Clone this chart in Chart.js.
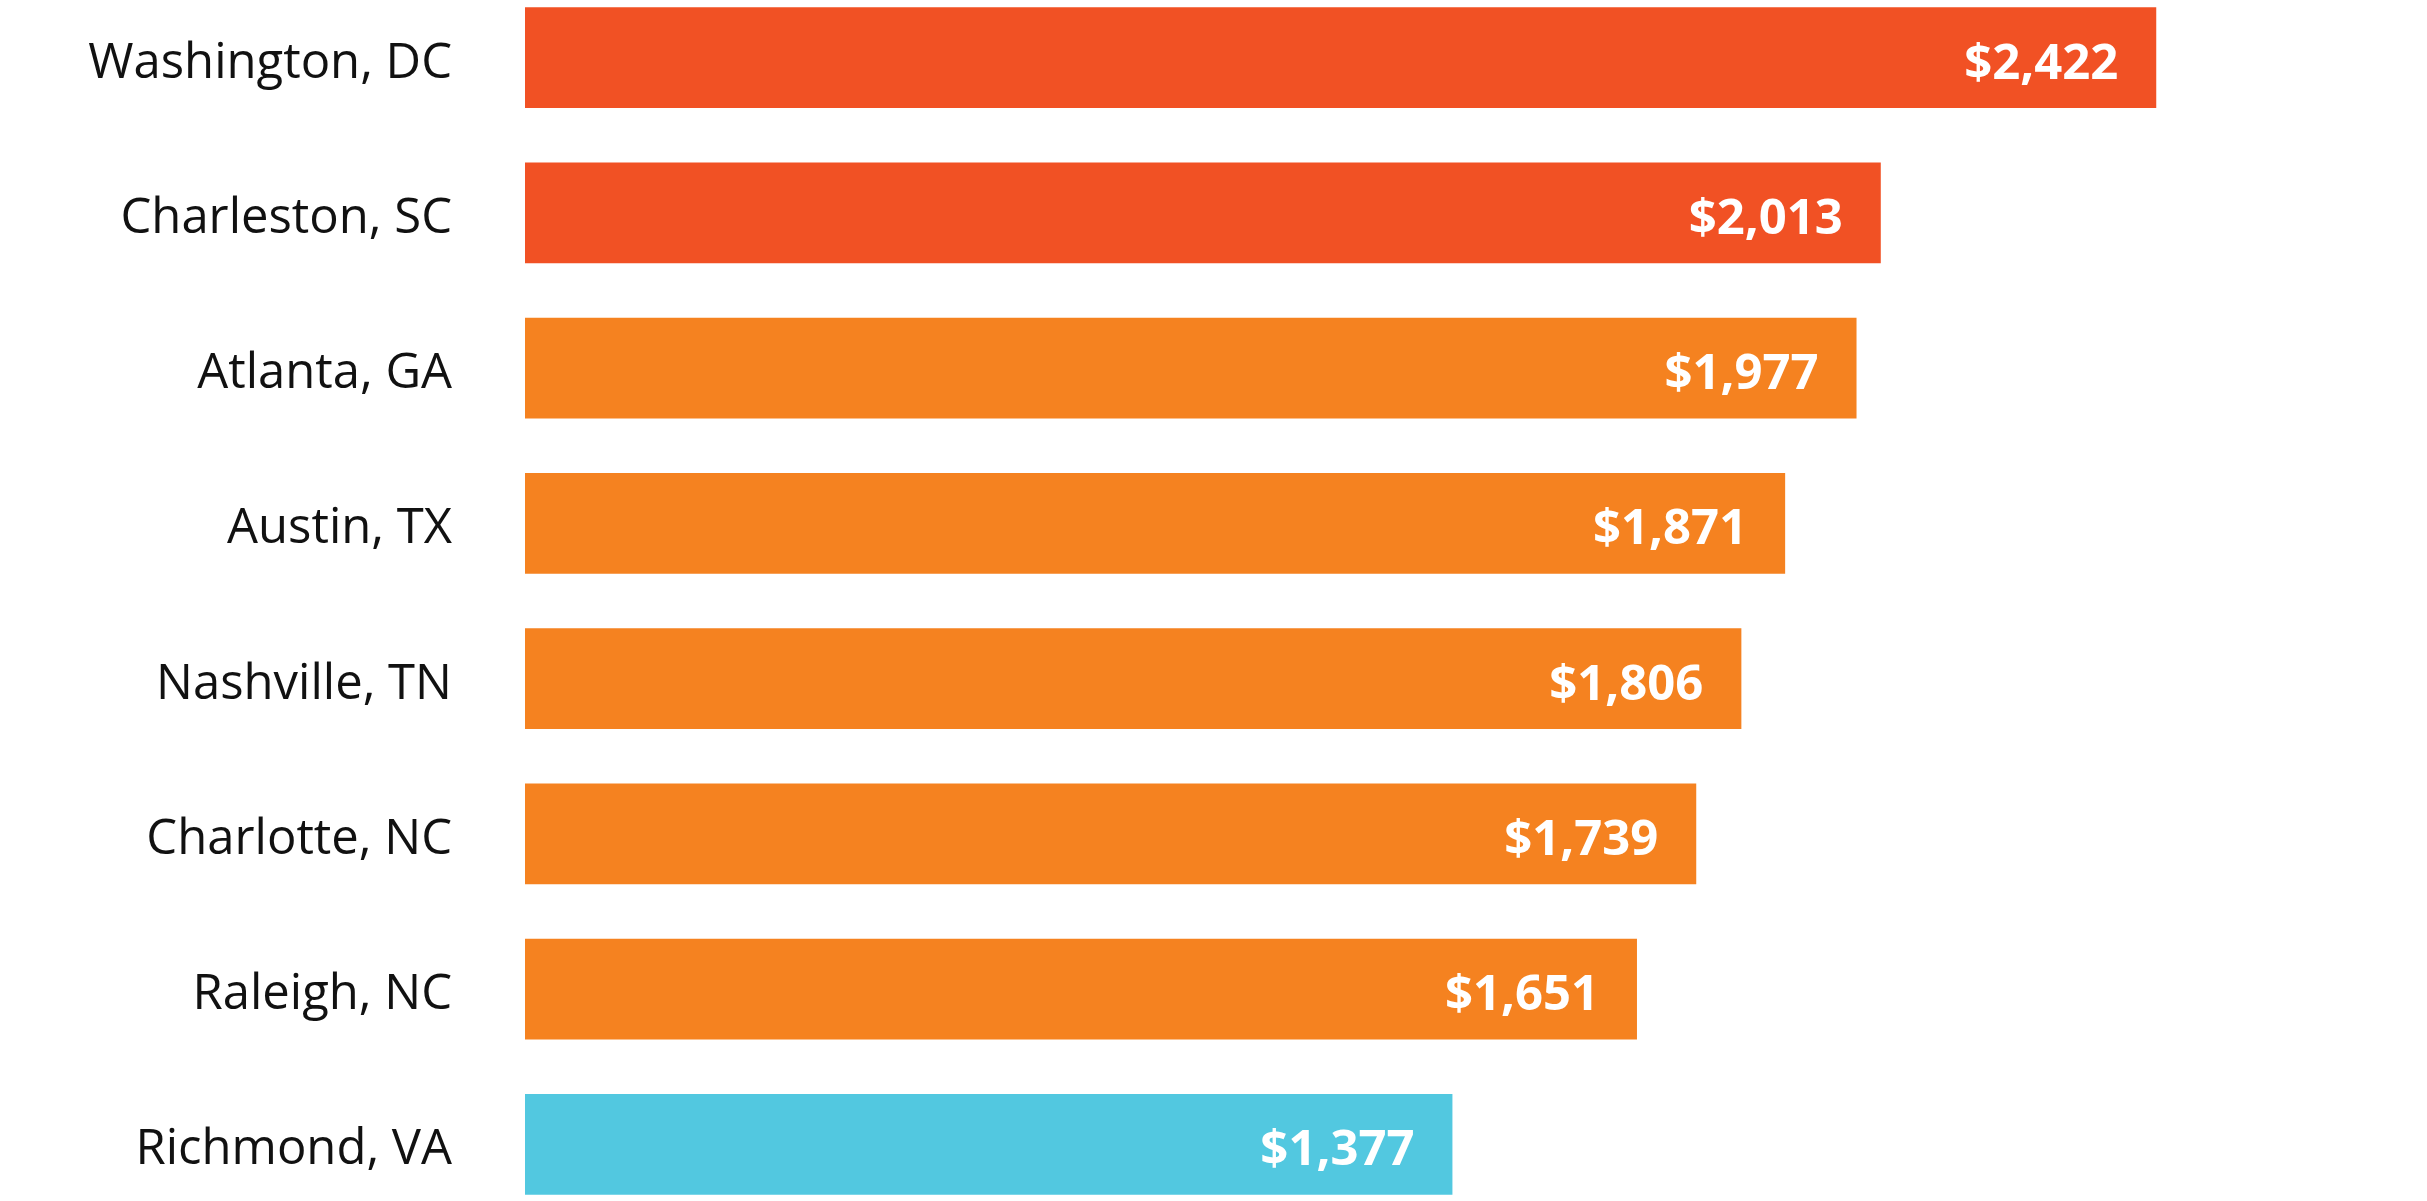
<!DOCTYPE html>
<html>
<head>
<meta charset="utf-8">
<script src="https://cdn.jsdelivr.net/npm/chart.js@4"></script>
<style>
  html, body { margin: 0; padding: 0; background: #fff; overflow: hidden; }
  #wrap { position: absolute; left: 0; top: -20px; width: 2427px; height: 1242px; }
</style>
</head>
<body>
<div id="wrap"><canvas id="rentBar"></canvas></div>
<script>
const cities = [
    'Washington, DC',
    'Charleston, SC',
    'Atlanta, GA',
    'Austin, TX',
    'Nashville, TN',
    'Charlotte, NC',
    'Raleigh, NC',
    'Richmond, VA'
];
const rents = [2422, 2013, 1977, 1871, 1806, 1739, 1651, 1377];
const barColors = [
    '#f15124',
    '#f15124',
    '#f58220',
    '#f58220',
    '#f58220',
    '#f58220',
    '#f58220',
    '#52c8e0'
];

// draws the "$x,xxx" text inside the end of each bar
const valueLabels = {
    id: 'valueLabels',
    afterDatasetsDraw(chart) {
        const ctx = chart.ctx;
        const meta = chart.getDatasetMeta(0);
        ctx.save();
        ctx.fillStyle = '#ffffff';
        ctx.font = 'bold 49px "Open Sans"';
        ctx.textAlign = 'right';
        ctx.textBaseline = 'middle';
        meta.data.forEach((bar, i) => {
            ctx.fillText('$' + rents[i].toLocaleString('en-US'), bar.x - 38, bar.y + 7);
        });
        ctx.restore();
    }
};

const rentBar = document.getElementById('rentBar');

let barChart = new Chart(rentBar, {
    type: 'bar',
    data: {
        labels: cities,
        datasets: [{
            label: 'Rent',
            data: rents,
            backgroundColor: barColors,
            borderWidth: 0,
            barPercentage: 0.648,
            categoryPercentage: 1
        }]
    },
    options: {
        indexAxis: 'y',
        responsive: true,
        maintainAspectRatio: false,
        animation: false,
        layout: { padding: 0 },
        plugins: {
            legend: { display: false },
            tooltip: { enabled: false }
        },
        scales: {
            x: {
                display: false,
                min: 0,
                max: 2824
            },
            y: {
                border: { display: false },
                grid: { display: false, drawTicks: false },
                afterFit(scale) {
                    scale.width = 525;
                    scale.paddingTop = 0;
                    scale.paddingBottom = 0;
                },
                ticks: {
                    padding: 73,
                    labelOffset: 6,
                    color: '#111111',
                    font: {
                        family: 'Open Sans',
                        size: 49
                    }
                }
            }
        }
    },
    plugins: [valueLabels]
});
</script>
</body>
</html>
